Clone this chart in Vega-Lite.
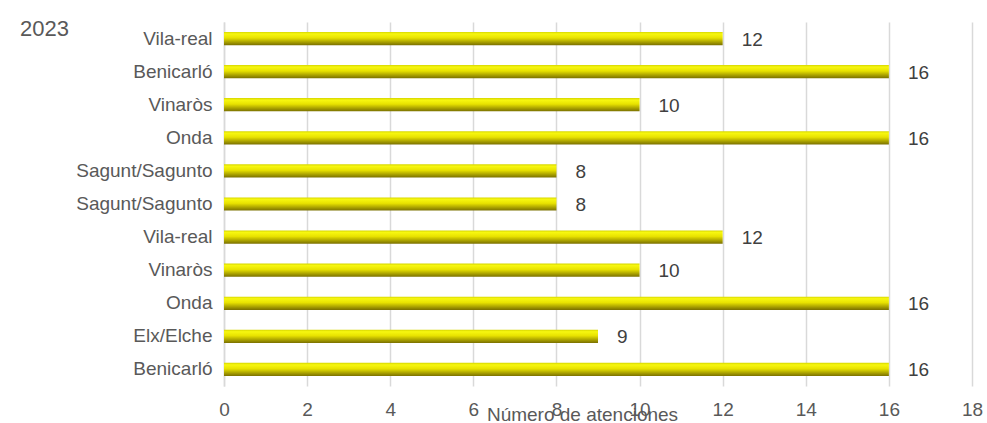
{
  "$schema": "https://vega.github.io/schema/vega-lite/v6.json",
  "autosize": {"type": "none"},
  "width": 748,
  "height": 364,
  "padding": {"left": 224, "top": 22, "right": 15, "bottom": 37},
  "background": "white",
  "title": {
    "text": "2023",
    "anchor": "start",
    "frame": "group",
    "orient": "top",
    "offset": 0,
    "baseline": "alphabetic",
    "dx": -204,
    "dy": 36,
    "font": "Liberation Sans",
    "fontSize": 22,
    "fontWeight": "normal",
    "color": "#595959"
  },
  "config": {
    "view": {"stroke": null},
    "font": "Liberation Sans"
  },
  "data": {
    "values": [
      {"clave": "01|Vila-real", "ciudad": "Vila-real", "atenciones": 12},
      {"clave": "02|Benicarló", "ciudad": "Benicarló", "atenciones": 16},
      {"clave": "03|Vinaròs", "ciudad": "Vinaròs", "atenciones": 10},
      {"clave": "04|Onda", "ciudad": "Onda", "atenciones": 16},
      {"clave": "05|Sagunt/Sagunto", "ciudad": "Sagunt/Sagunto", "atenciones": 8},
      {"clave": "06|Sagunt/Sagunto", "ciudad": "Sagunt/Sagunto", "atenciones": 8},
      {"clave": "07|Vila-real", "ciudad": "Vila-real", "atenciones": 12},
      {"clave": "08|Vinaròs", "ciudad": "Vinaròs", "atenciones": 10},
      {"clave": "09|Onda", "ciudad": "Onda", "atenciones": 16},
      {"clave": "10|Elx/Elche", "ciudad": "Elx/Elche", "atenciones": 9},
      {"clave": "11|Benicarló", "ciudad": "Benicarló", "atenciones": 16}
    ]
  },
  "encoding": {
    "y": {
      "field": "clave",
      "type": "nominal",
      "sort": "ascending",
      "scale": {"paddingInner": 0.6, "paddingOuter": 0.3},
      "axis": {
        "title": null,
        "labelExpr": "split(datum.value, '|')[1]",
        "ticks": false,
        "domain": true,
        "domainColor": "#d9d9d9",
        "domainWidth": 1.5,
        "labelPadding": 12,
        "labelFontSize": 19,
        "labelColor": "#595959",
        "labelFont": "Liberation Sans"
      }
    },
    "x": {
      "field": "atenciones",
      "type": "quantitative",
      "scale": {"domain": [0, 18], "nice": false},
      "axis": {
        "title": "Número de atenciones",
        "values": [0, 2, 4, 6, 8, 10, 12, 14, 16, 18],
        "grid": true,
        "gridColor": "#d9d9d9",
        "gridWidth": 1.5,
        "domain": false,
        "ticks": false,
        "labelFlush": false,
        "labelOverlap": false,
        "labelPadding": 14,
        "labelFontSize": 19,
        "labelColor": "#595959",
        "labelFont": "Liberation Sans",
        "titleFontSize": 19,
        "titleFontWeight": "normal",
        "titleColor": "#595959",
        "titleFont": "Liberation Sans",
        "titleX": 358,
        "titleY": 19,
        "titleBaseline": "top"
      }
    }
  },
  "layer": [
    {
      "mark": {
        "type": "bar",
        "color": {
          "gradient": "linear",
          "x1": 0, "y1": 0, "x2": 0, "y2": 1,
          "stops": [
            {"offset": 0, "color": "#d6d600"},
            {"offset": 0.15, "color": "#f7f710"},
            {"offset": 0.45, "color": "#e8e200"},
            {"offset": 1, "color": "#7a7000"}
          ]
        }
      }
    },
    {
      "mark": {
        "type": "text",
        "align": "left",
        "baseline": "middle",
        "dx": 19,
        "dy": 1,
        "fontSize": 19,
        "font": "Liberation Sans",
        "color": "#404040"
      },
      "encoding": {
        "text": {"field": "atenciones", "type": "quantitative"}
      }
    }
  ]
}
